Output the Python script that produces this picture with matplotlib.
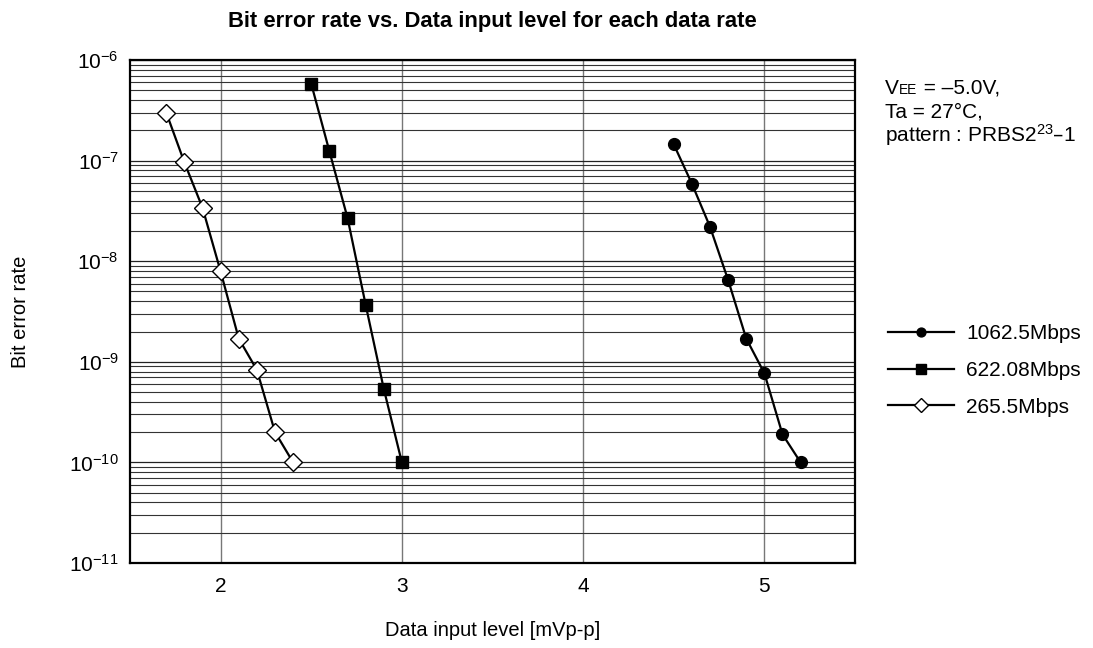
import matplotlib
matplotlib.use("Agg")
import matplotlib.pyplot as plt
from matplotlib.ticker import LogLocator, FixedLocator, NullFormatter

plt.rcParams['font.family'] = ['Liberation Sans', 'DejaVu Sans']

# ---- data ----
x_1062 = [4.5, 4.6, 4.7, 4.8, 4.9, 5.0, 5.1, 5.2]
ber_1062 = [1.45e-7, 5.9e-8, 2.2e-8, 6.5e-9, 1.7e-9, 7.7e-10, 1.9e-10, 1.0e-10]

x_622 = [2.5, 2.6, 2.7, 2.8, 2.9, 3.0]
ber_622 = [5.8e-7, 1.24e-7, 2.7e-8, 3.7e-9, 5.4e-10, 1.0e-10]

x_265 = [1.7, 1.8, 1.9, 2.0, 2.1, 2.2, 2.3, 2.4]
ber_265 = [3.0e-7, 9.6e-8, 3.4e-8, 7.9e-9, 1.7e-9, 8.3e-10, 2.0e-10, 1.0e-10]

labels = ['1062.5Mbps', '622.08Mbps', '265.5Mbps']
x_ticks = [2, 3, 4, 5]
x_tick_labels = ['2', '3', '4', '5']
y_ticks = [1e-11, 1e-10, 1e-9, 1e-8, 1e-7, 1e-6]
y_tick_labels = [r'$\mathregular{10^{-11}}$', r'$\mathregular{10^{-10}}$', r'$\mathregular{10^{-9}}$',
                 r'$\mathregular{10^{-8}}$', r'$\mathregular{10^{-7}}$', r'$\mathregular{10^{-6}}$']

fig = plt.figure(figsize=(10.93, 6.48), dpi=100)
ax = fig.add_axes([130/1093, 1 - 563/648, 725/1093, 503/648])

ax.set_yscale('log')
ax.set_xlim(1.5, 5.5)
ax.set_ylim(1e-11, 1e-6)

# grid
ax.yaxis.set_major_locator(FixedLocator(y_ticks))
ax.yaxis.set_minor_locator(LogLocator(base=10, subs=range(2, 10), numticks=20))
ax.yaxis.set_minor_formatter(NullFormatter())
ax.set_yticklabels(y_tick_labels)
ax.set_xticks(x_ticks)
ax.set_xticklabels(x_tick_labels)
ax.grid(True, which='major', axis='y', color='#222222', lw=0.9)
ax.grid(True, which='minor', axis='y', color='#333333', lw=0.8)
ax.grid(True, which='major', axis='x', color='#777777', lw=1.0)
ax.set_axisbelow(True)
ax.tick_params(which='both', length=0, labelsize=15)
ax.tick_params(axis='x', pad=10)
ax.tick_params(axis='y', pad=8)
for s in ax.spines.values():
    s.set_linewidth(1.6)
    s.set_color('black')

l1, = ax.plot(x_1062, ber_1062, color='black', lw=1.6, marker='o', ms=8.5,
              mfc='black', mec='black', label=labels[0], zorder=3)
l2, = ax.plot(x_622, ber_622, color='black', lw=1.6, marker='s', ms=9,
              mfc='black', mec='black', label=labels[1], zorder=3)
l3, = ax.plot(x_265, ber_265, color='black', lw=1.6, marker='D', ms=9,
              mfc='white', mec='black', mew=1.0, label=labels[2], zorder=3)

ax.set_title('Bit error rate vs. Data input level for each data rate',
             fontsize=15.8, fontweight='bold', pad=24)
ax.set_xlabel('Data input level [mVp-p]', fontsize=14.5, labelpad=18)
ax.set_ylabel('Bit error rate', fontsize=14.5, labelpad=28)

leg = fig.legend(handles=[l1, l2, l3], labels=labels, loc='upper left',
                 bbox_to_anchor=(880/1093, 1 - 316/648), frameon=False,
                 fontsize=15, handlelength=3.15, handletextpad=0.6,
                 labelspacing=0.85, markerscale=0.75, borderaxespad=0)

# condition annotation
fs = 15
t1 = fig.text(885/1093, 1 - 94/648, 'V', fontsize=fs, va='baseline')
t2 = ax.annotate('EE', xy=(1, 0), xycoords=t1, fontsize=fs * 0.66,
                 va='bottom', ha='left', annotation_clip=False,
                 xytext=(0.3, 1.0), textcoords='offset points')
ax.annotate(' = \u20135.0V,', xy=(1, 0), xycoords=(t2, t1), fontsize=fs,
            va='bottom', ha='left', annotation_clip=False)
fig.text(885/1093, 1 - 118/648, 'Ta = 27\u00b0C,', fontsize=fs, va='baseline')
fig.text(885/1093, 1 - 142/648, r'pattern : PRBS$\mathregular{2^{23}}$' + '\u20131',
         fontsize=fs, va='baseline')

fig.savefig('out.png', dpi=100)
